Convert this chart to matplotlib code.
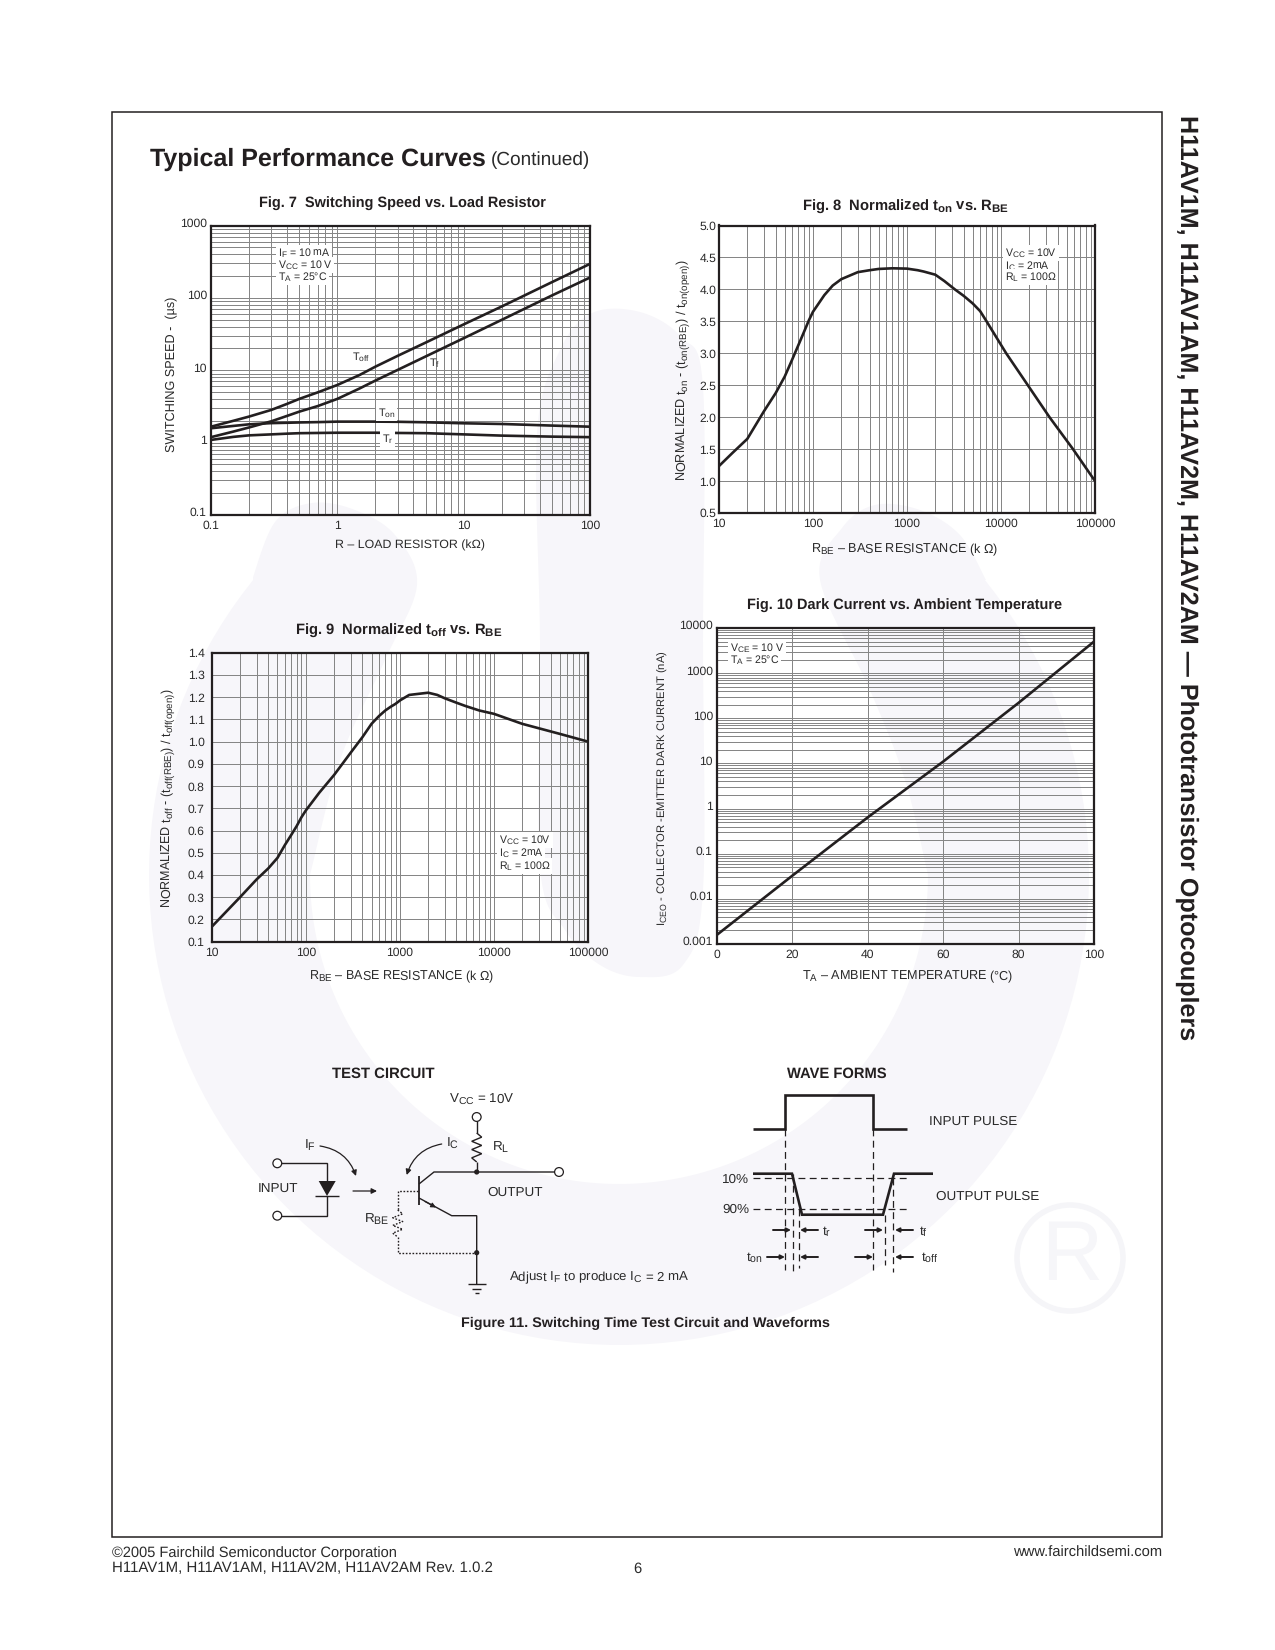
import numpy as np
import matplotlib
matplotlib.use("Agg")
import matplotlib.pyplot as plt
import matplotlib._mathtext as _mt
from matplotlib.patches import Polygon, Circle, FancyArrowPatch
from matplotlib.ticker import LogLocator, NullFormatter, FixedLocator
from matplotlib.transforms import ScaledTranslation

_mt.SHRINK_FACTOR = 0.78

# ---------- data ----------
fig7_x = [0.1, 0.15, 0.2, 0.3, 0.4, 0.5, 0.7, 1, 1.5, 2, 3, 5, 10, 20, 50, 100]
fig7_toff = [1.66, 2.0, 2.29, 2.83, 3.43, 4.02, 4.95, 6.26, 8.6, 11.2, 15.8, 24.1, 43, 76, 165, 295]
fig7_tf = [1.19, 1.42, 1.62, 1.97, 2.34, 2.68, 3.2, 4.02, 5.6, 7.2, 10.1, 15.5, 27.7, 49.7, 108, 191]
fig7_ton = [1.58, 1.70, 1.79, 1.86, 1.88, 1.90, 1.92, 1.95, 1.95, 1.95, 1.94, 1.91, 1.85, 1.81, 1.72, 1.66]
fig7_tr = [1.09, 1.20, 1.26, 1.30, 1.33, 1.35, 1.36, 1.37, 1.37, 1.37, 1.36, 1.35, 1.30, 1.25, 1.21, 1.19]
fig7_xticks = [0.1, 1, 10, 100]
fig7_xlabels = ["0.1", "1", "10", "100"]
fig7_yticks = [0.1, 1, 10, 100, 1000]
fig7_ylabels = ["0.1", "1", "10", "100", "1000"]

fig8_x = [10, 13.9, 20, 30, 40, 50, 60, 70, 80, 90, 100, 132, 162, 200, 300, 400, 500,
          700, 1000, 1300, 1500, 2000, 2500, 3230, 4000, 5000, 6000, 7020, 11350, 19300, 32800, 58300, 100000]
fig8_y = [1.235, 1.44, 1.66, 2.09, 2.375, 2.635, 2.9, 3.13, 3.33, 3.51, 3.65, 3.91, 4.06, 4.16,
          4.27, 4.30, 4.32, 4.33, 4.325, 4.30, 4.28, 4.23, 4.13, 4.0, 3.90, 3.78, 3.66,
          3.5, 3.0, 2.5, 2.0, 1.5, 1.0]
fig8_yticks = [0.5, 1, 1.5, 2, 2.5, 3, 3.5, 4, 4.5, 5]

fig9_x = [10, 20, 30, 40, 50, 60, 70, 80, 90, 100, 139, 200, 300, 400, 500, 600, 700, 800, 900, 1000,
          1257, 2000, 2500, 3000, 4000, 5000, 7000, 10000, 20000, 50000, 100000]
fig9_y = [0.167, 0.30, 0.38, 0.43, 0.477, 0.535, 0.58, 0.62, 0.66, 0.69, 0.77, 0.85, 0.95, 1.02, 1.08,
          1.115, 1.14, 1.157, 1.17, 1.185, 1.21, 1.22, 1.21, 1.195, 1.175, 1.16, 1.14, 1.125, 1.08, 1.035, 1.0]
fig9_yticks = [0.1, 0.2, 0.3, 0.4, 0.5, 0.6, 0.7, 0.8, 0.9, 1.0, 1.1, 1.2, 1.3, 1.4]

rbe_ticks = [10, 100, 1000, 10000, 100000]
rbe_labels = ["10", "100", "1000", "10000", "100000"]

fig10_x = [0, 20, 40, 60, 80, 100]
fig10_y = [0.0016, 0.0327, 0.64, 11, 220, 5000]
fig10_yticks = [0.001, 0.01, 0.1, 1, 10, 100, 1000, 10000]
fig10_ylabels = ["0.001", "0.01", "0.1", "1", "10", "100", "1000", "10000"]

plt.rcParams.update({
    "font.family": "Liberation Sans",
    "mathtext.fontset": "custom",
    "mathtext.rm": "Liberation Sans",
    "mathtext.it": "Liberation Sans:italic",
    "mathtext.bf": "Liberation Sans:bold",
    "mathtext.default": "rm",
    "text.hinting": "no_hinting",
})

W, H = 1275, 1650
fig = plt.figure(figsize=(W / 100, H / 100), dpi=100, facecolor="white")
INK = "#231f20"
TXT = "#2a2a2a"
GRID = "#868686"
WM = "#f7f6fa"

# ---------- pixel-space layers ----------
bg = fig.add_axes([0, 0, 1, 1], zorder=0)
bg.set_xlim(0, W); bg.set_ylim(H, 0); bg.axis("off")
ov = fig.add_axes([0, 0, 1, 1], zorder=5)
ov.set_xlim(0, W); ov.set_ylim(H, 0); ov.axis("off"); ov.patch.set_alpha(0)

def smooth(pts, closed=False, n=12):
    p = np.asarray(pts, float)
    if closed:
        p = np.vstack([p[-1], p, p[0], p[1]])
    else:
        p = np.vstack([p[0], p, p[-1]])
    out = []
    for i in range(1, len(p) - 2):
        p0, p1, p2, p3 = p[i - 1], p[i], p[i + 1], p[i + 2]
        for t in np.linspace(0, 1, n, endpoint=False):
            out.append(0.5 * (2 * p1 + (p2 - p0) * t + (2 * p0 - 5 * p1 + 4 * p2 - p3) * t ** 2
                              + (3 * p1 - p0 - 3 * p2 + p3) * t ** 3))
    return np.array(out)

# watermark
cx, cy, R1, R2 = 619, 875, 470, 309
def arc(r, a0, a1, n=120):
    t = np.radians(np.linspace(a0, a1, n))
    return np.c_[cx + r * np.cos(t), cy + r * np.sin(t)]
a_left = 180 + np.degrees(np.arcsin(295 / 470))
a_right = -np.degrees(np.arcsin(295 / 470))
outer = arc(R1, a_left, a_right)          # passes through the bottom
inner = arc(R2, 0, 180)
lobe_r = smooth([(986, 580), (960, 535), (920, 510), (875, 505), (842, 528), (820, 580), (870, 690), (905, 780), (928, 875)])
lobe_l = smooth([(310, 875), (340, 760), (385, 660), (417, 585), (395, 535), (355, 510), (312, 503), (275, 522), (252, 580)])
bg.add_patch(Polygon(np.vstack([outer, lobe_r, inner, lobe_l]), closed=True, fc=WM, ec="none"))
stem = smooth([(540, 867), (565, 930), (600, 965), (640, 977), (683, 965), (703, 890), (703, 640), (703, 387),
               (681, 337), (640, 312), (592, 313), (560, 350), (537, 433), (540, 640)], closed=True)
bg.add_patch(Polygon(stem, closed=True, fc=WM, ec="none"))
bg.add_patch(Circle((1070, 1258), 53, fc="none", ec="#f5f5f8", lw=4))
bg.text(1072, 1258, "R", fontsize=61, color="#f6f6f9", ha="center", va="center")

# page frame
ov.add_patch(plt.Rectangle((112, 112), 1050, 1425, fc="none", ec=INK, lw=1.1))

def T(x, y, s, size=9, ha="left", va="center", box=False, **kw):
    kw.setdefault("color", TXT)
    if box:
        kw["bbox"] = dict(fc="white", ec="none", pad=1.2)
    return ov.text(x, y, s, fontsize=size, ha=ha, va=va, **kw)

def make_axes(l, t, r, b, xlim, ylim, xlog, ylog):
    ax = fig.add_axes([l / W, 1 - b / H, (r - l) / W, (b - t) / H], zorder=2)
    ax.patch.set_alpha(0)
    ax.set_xscale("log" if xlog else "linear")
    ax.set_yscale("log" if ylog else "linear")
    ax.set_xlim(*xlim); ax.set_ylim(*ylim)
    for s in ax.spines.values():
        s.set_linewidth(1.6); s.set_color(INK); s.set_zorder(4)
    ax.set_axisbelow(True)
    ax.grid(True, which="both", color=GRID, lw=0.72)
    ax.tick_params(which="both", length=0)
    return ax

def log_minor(axis):
    axis.set_minor_locator(LogLocator(base=10, subs=range(2, 10), numticks=30))
    axis.set_minor_formatter(NullFormatter())

def set_ticks(ax, xt, xl, yt, yl, xpad, ypad, yshift=0):
    ax.xaxis.set_major_locator(FixedLocator(xt))
    ax.set_xticklabels(xl)
    ax.yaxis.set_major_locator(FixedLocator(yt))
    ax.set_yticklabels(yl)
    ax.tick_params(axis="x", which="major", pad=xpad, labelsize=8.7, labelcolor=TXT)
    ax.tick_params(axis="y", which="major", pad=ypad, labelsize=8.7, labelcolor=TXT)
    off = ScaledTranslation(0, yshift / 100, fig.dpi_scale_trans)
    for lab in ax.get_yticklabels():
        lab.set_transform(lab.get_transform() + off)

CURVE = dict(color=INK, lw=1.9, zorder=3, solid_joinstyle="round", clip_on=True)

# ---------- Fig 7 ----------
a7 = make_axes(211, 225.5, 590, 515, (0.1, 100), (0.1, 1000), True, True)
log_minor(a7.xaxis); log_minor(a7.yaxis)
set_ticks(a7, fig7_xticks, fig7_xlabels, fig7_yticks, fig7_ylabels, 4, 3, 3)
for ys in (fig7_toff, fig7_tf, fig7_ton, fig7_tr):
    a7.plot(fig7_x, ys, **CURVE)

# ---------- Fig 8 ----------
a8 = make_axes(719, 225.5, 1095, 513, (10, 100000), (0.5, 5.0), True, False)
log_minor(a8.xaxis)
set_ticks(a8, rbe_ticks, rbe_labels, fig8_yticks, [f"{v:.1f}" for v in fig8_yticks], 4, 2)
a8.plot(fig8_x, fig8_y, **CURVE)

# ---------- Fig 9 ----------
a9 = make_axes(211.7, 652.7, 588, 941.7, (10, 100000), (0.1, 1.4), True, False)
log_minor(a9.xaxis)
set_ticks(a9, rbe_ticks, rbe_labels, fig9_yticks, [f"{v:.1f}" for v in fig9_yticks], 4, 5)
a9.plot(fig9_x, fig9_y, **CURVE)

# ---------- Fig 10 ----------
a10 = make_axes(717, 628, 1094, 944, (0, 100), (0.001, 10000), False, True)
log_minor(a10.yaxis)
set_ticks(a10, [0, 20, 40, 60, 80, 100], ["0", "20", "40", "60", "80", "100"],
          fig10_yticks, fig10_ylabels, 4, 3, 3)
a10.plot(fig10_x, fig10_y, **CURVE)

# ---------- headings ----------
T(150.5, 159, "Typical Performance Curves", 18, weight="bold", color=INK)
T(491, 160, "(Continued)", 13.7)
B = dict(weight="bold", color=INK)
T(402, 204, "Fig. 7  Switching Speed vs. Load Resistor", 10.45, ha="center", **B)
T(905.5, 207, r"Fig. 8  Normalized t$_{\mathbf{on}}$ vs. R$_{\mathbf{BE}}$", 10.6, ha="center", **B)
T(399, 631, r"Fig. 9  Normalized t$_{\mathbf{off}}$ vs. R$_{\mathbf{BE}}$", 10.6, ha="center", **B)
T(905, 606, "Fig. 10 Dark Current vs. Ambient Temperature", 10.45, ha="center", **B)

# axis labels
T(409.5, 545, "R – LOAD RESISTOR (kΩ)", 8.95, ha="center")
T(172, 374, "SWITCHING SPEED -  (µs)", 9.05, ha="center", rotation=90)
T(904.5, 550, r"R$_{\mathrm{BE}}$ – BASE RESISTANCE (k Ω)", 9.05, ha="center")
T(683, 370, r"NORMALIZED t$_{\mathrm{on}}$ - (t$_{\mathrm{on(RBE)}}$) / t$_{\mathrm{on(open)}}$)", 9.05, ha="center", rotation=90)
T(402, 977, r"R$_{\mathrm{BE}}$ – BASE RESISTANCE (k Ω)", 9.0, ha="center")
T(168, 798, r"NORMALIZED t$_{\mathrm{off}}$ - (t$_{\mathrm{off(RBE)}}$) / t$_{\mathrm{off(open)}}$)", 9.0, ha="center", rotation=90)
T(907.5, 977, r"T$_{\mathrm{A}}$ – AMBIENT TEMPERATURE (°C)", 9.05, ha="center")
T(663, 788, r"I$_{\mathrm{CEO}}$ - COLLECTOR -EMITTER DARK CURRENT (nA)", 8.15, ha="center", rotation=90)

# annotation blocks
for x, ys, lines in [
    (278, (253, 265, 277), ["I$_{\\mathrm{F}}$ = 10 mA", "V$_{\\mathrm{CC}}$ = 10 V", "T$_{\\mathrm{A}}$ = 25°C"]),
    (1005, (253, 266, 277), ["V$_{\\mathrm{CC}}$ = 10V", "I$_{\\mathrm{C}}$ = 2mA", "R$_{\\mathrm{L}}$ = 100Ω"]),
    (499, (840, 853, 866), ["V$_{\\mathrm{CC}}$ = 10V", "I$_{\\mathrm{C}}$ = 2mA", "R$_{\\mathrm{L}}$ = 100Ω"]),
    (730, (648, 660), ["V$_{\\mathrm{CE}}$ = 10 V", "T$_{\\mathrm{A}}$ = 25°C"]),
]:
    for y, s in zip(ys, lines):
        T(x, y, s, 7.6, box=True)

T(352, 357, "T$_{\\mathrm{off}}$", 7.8)
T(429, 363, "T$_{\\mathrm{f}}$", 7.8)
T(378, 413, "T$_{\\mathrm{on}}$", 7.8, box=True)
T(382, 439, "T$_{\\mathrm{r}}$", 7.8, box=True)

# ---------- test circuit ----------
def L(xs, ys, lw=1.0, ls="-", c=INK):
    ov.plot(xs, ys, color=c, lw=lw, ls=ls, solid_capstyle="butt", solid_joinstyle="miter")

def node(x, y):
    ov.add_patch(Circle((x, y), 2.6, fc=INK, ec="none"))

def term(x, y):
    ov.add_patch(Circle((x, y), 4.4, fc="white", ec=INK, lw=0.9, zorder=6))

def arrow(p, q, rad=0.0, lw=0.9, ms=8):
    ov.add_patch(FancyArrowPatch(p, q, arrowstyle="-|>", mutation_scale=ms, lw=lw, color=INK,
                                 connectionstyle=f"arc3,rad={rad}", shrinkA=0, shrinkB=0))

def zig(x, y0, y1, amp, n=6):
    ys = np.linspace(y0, y1, n + 2)
    xs = [x] + [x + (amp if i % 2 == 0 else -amp) for i in range(n)] + [x]
    return xs, ys

T(332.5, 1074, "TEST CIRCUIT", 10.7, **B)
T(449, 1099, "V$_{\\mathrm{CC}}$ = 10V", 9.6)
T(304, 1145, "I$_{\\mathrm{F}}$", 9.7)
T(446.5, 1143, "I$_{\\mathrm{C}}$", 9.7)
T(491.5, 1146, "R$_{\\mathrm{L}}$", 9.7)
T(258, 1190, "INPUT", 9.7)
T(487.5, 1193, "OUTPUT", 9.7)
T(364, 1218.5, "R$_{\\mathrm{BE}}$", 9.7)
T(509, 1278, "Adjust I$_{\\mathrm{F}}$ to produce I$_{\\mathrm{C}}$ = 2 mA", 9.5)
T(645, 1323, "Figure 11. Switching Time Test Circuit and Waveforms", 10.4, ha="center", **B)

L([277, 326.7, 326.7], [1163.3, 1163.3, 1181])
L([326.7, 326.7, 277], [1196, 1215.7, 1215.7])
ov.add_patch(Polygon([(318.7, 1181), (335.7, 1181), (327, 1196)], closed=True, fc=INK, ec="none"))
L([315.3, 338.7], [1196, 1196])
term(277.3, 1163.3); term(277.3, 1215.7)
arrow((320, 1146), (356, 1176), rad=-0.3)
arrow((441.7, 1144), (406.7, 1175), rad=0.3)
arrow((353, 1191), (377, 1191))

L([476.7, 476.7], [1121, 1133])
zx, zy = zig(476.7, 1133, 1162, 5)
L(zx, zy)
L([476.7, 476.7], [1162, 1172])
term(476.7, 1117)
L([419, 419], [1176, 1205], lw=1.3)
L([419, 434, 555], [1184, 1172, 1172])
L([419, 451.7, 476.7, 476.7], [1198, 1215.7, 1215.7, 1284])
arrow((425, 1201.5), (436, 1207.5), ms=7)
term(559, 1172)
node(476.7, 1172); node(476.7, 1252.7)
L([468, 485.7], [1284, 1284]); L([472, 481], [1288.5, 1288.5]); L([474.5, 479], [1293, 1293])

DOT = (0, (1.2, 1.2))
L([417.7, 397.7, 397.7], [1191, 1191, 1210], ls=DOT)
zx, zy = zig(397.7, 1210, 1237, 5)
L(zx, zy, ls=DOT)
L([397.7, 397.7, 476.7], [1237, 1252.7, 1252.7], ls=DOT)

# ---------- wave forms ----------
T(787, 1074, "WAVE FORMS", 10.6, **B)
T(929, 1122, "INPUT PULSE", 9.7)
T(936, 1197, "OUTPUT PULSE", 9.7)
T(722, 1180, "10%", 9.7)
T(722, 1210, "90%", 9.7)
L([753, 785, 785, 873, 873, 907], [1129, 1129, 1095, 1095, 1129, 1129], lw=1.9)
L([753, 792, 802, 883, 894, 933], [1173.7, 1173.7, 1214.7, 1214.7, 1173.7, 1173.7], lw=1.9)
DASH = (0, (5.5, 3.5))
L([753, 907], [1178, 1178], lw=0.9, ls=DASH)
L([753, 907], [1209, 1209], lw=0.9, ls=DASH)
for x, y0, y1 in [(785, 1129, 1270), (793, 1174, 1273), (799, 1209, 1268),
                  (873, 1129, 1270), (885, 1215, 1265), (893, 1178, 1272)]:
    L([x, x], [y0, y1], lw=0.9, ls=DASH)
for p, q in [((773, 1230), (791, 1230)), ((818, 1230), (800, 1230)),
             ((865, 1230), (883, 1230)), ((913, 1230), (895, 1230)),
             ((767, 1257), (785, 1257)), ((818, 1257), (800, 1257)),
             ((855, 1257), (873, 1257)), ((913, 1257), (895, 1257))]:
    arrow(p, q, lw=1.4, ms=6)
T(822, 1232, "t$_{\\mathrm{r}}$", 9.7)
T(919, 1232, "t$_{\\mathrm{f}}$", 9.7)
T(746, 1258, "t$_{\\mathrm{on}}$", 9.7)
T(921, 1258, "t$_{\\mathrm{off}}$", 9.7)

# ---------- footer and side title ----------
T(112, 1553, "©2005 Fairchild Semiconductor Corporation", 10.55)
T(112, 1568.5, "H11AV1M, H11AV1AM, H11AV2M, H11AV2AM Rev. 1.0.2", 10.8)
T(637, 1568.5, "6", 10.65, ha="center")
T(1162, 1553, "www.fairchildsemi.com", 10.65, ha="right")
T(1187, 115, "H11AV1M, H11AV1AM, H11AV2M, H11AV2AM — Phototransistor Optocouplers", 18.05,
  ha="center", va="top", rotation=-90, rotation_mode="default", weight="bold", color=INK)

fig.savefig("out.png", dpi=100, facecolor="white")
